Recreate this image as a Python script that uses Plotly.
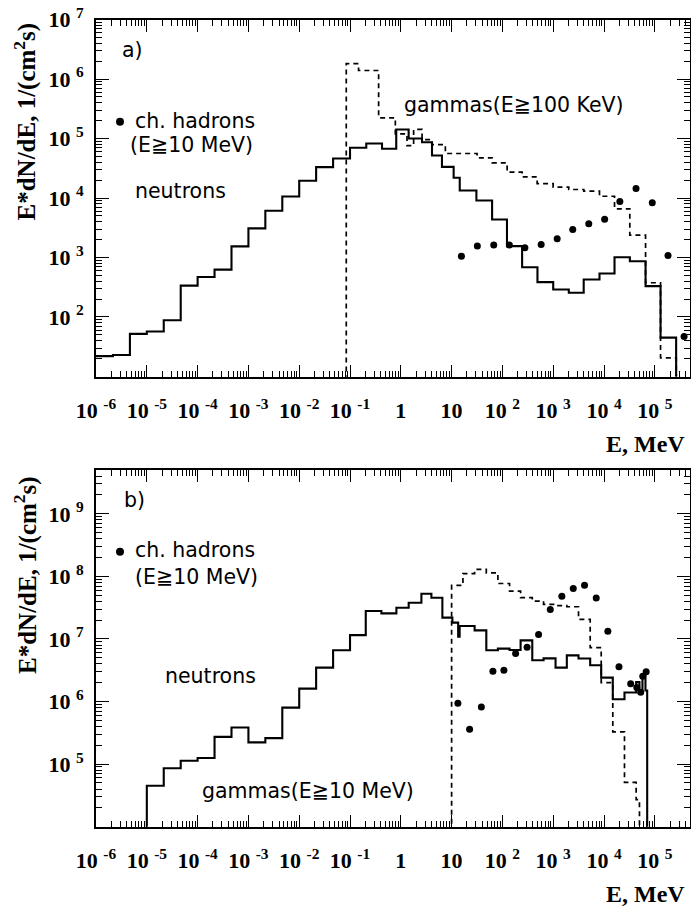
import numpy as np
import plotly.graph_objects as go

# ---------------- Panel a) ----------------
# neutron spectrum: bin edges (log10 E/MeV) and E*dN/dE values
a_neutron_edges_log = [-6, -5.667, -5.333, -5, -4.667, -4.333, -4, -3.667, -3.333, -3,
                       -2.667, -2.333, -2, -1.667, -1.333, -1, -0.68, -0.37, -0.09, 0.154,
                       0.417, 0.614, 0.81, 1.04, 1.16, 1.488, 1.797, 2.09, 2.388, 2.69,
                       3.0, 3.307, 3.60, 3.911, 4.207, 4.509, 4.818, 5.113, 5.42]
a_neutron_flux = [22, 23, 52, 57, 88, 336, 470, 624, 1535, 3090,
                  6090, 10600, 19500, 33000, 46000, 69800, 82400, 67200, 141700, 100000,
                  86700, 51800, 33400, 21900, 13400, 9080, 4360, 1550, 687, 385,
                  290, 255, 427, 538, 1010, 867, 330, 45]
# gamma spectrum (E >= 100 keV)
a_gamma_edges_log = [-1.074, -0.832, -0.437, -0.108, 0.122, 0.252, 0.418, 0.615, 0.877, 1.501,
                     1.797, 2.093, 2.388, 2.684, 2.999, 3.306, 3.602, 3.911, 4.207, 4.508,
                     4.818, 5.113, 5.423]
a_gamma_flux = [1.82e6, 1.39e6, 2.23e5, 1.2e5, 76000, 1.42e5, 96000, 79000, 56000, 47400,
                39000, 27200, 22600, 17500, 15200, 13900, 13000, 10700, 6580, 2370,
                376, 20.6]
# charged hadrons (E >= 10 MeV)
a_hadron_E = [15.6, 32.1, 67.5, 137, 277, 579, 1197, 2427, 5012, 10300,
              20500, 42700, 89100, 182000, 377000]
a_hadron_flux = [1050, 1560, 1620, 1620, 1455, 1650, 2060, 2960, 3700, 4410,
                 8730, 14450, 8300, 1080, 47]

# ---------------- Panel b) ----------------
b_neutron_edges_log = [-5, -4.667, -4.333, -4, -3.667, -3.333, -3, -2.667, -2.333, -2,
                       -1.667, -1.333, -1, -0.69, -0.382, -0.087, 0.155, 0.405, 0.602, 0.818,
                       1.015, 1.129, 1.158, 1.453, 1.683, 1.911, 2.141, 2.358, 2.588, 2.81,
                       3.046, 3.268, 3.498, 3.728, 3.945, 4.173, 4.403, 4.633, 4.698, 4.757,
                       4.816, 4.85]
b_neutron_flux = [45000, 85600, 1.13e5, 1.25e5, 2.72e5, 3.85e5, 2.22e5, 2.6e5, 8.0e5, 1.61e6,
                  3.48e6, 6.58e6, 1.15e7, 2.79e7, 2.56e7, 3.15e7, 3.79e7, 5.27e7, 4.56e7, 2.19e7,
                  1.82e7, 1.09e7, 1.61e7, 1.37e7, 6.58e6, 7.0e6, 6.65e6, 9.5e6, 4.56e6, 4.9e6,
                  3.48e6, 5.47e6, 4.86e6, 3.79e6, 2.41e6, 1.09e6, 1.39e6, 2.04e6, 1.4e6, 2.7e6,
                  1.5e6]
b_gamma_edges_log = [1.0, 1.223, 1.453, 1.683, 1.911, 2.141, 2.358, 2.588, 2.81, 3.046,
                     3.268, 3.498, 3.728, 3.945, 4.173, 4.403, 4.633, 4.698]
b_gamma_flux = [7.16e7, 1.11e8, 1.29e8, 1.14e8, 7.7e7, 5.8e7, 4.56e7, 4.03e7, 3.56e7, 3.4e7,
                3.27e7, 2.05e7, 7.26e6, 2.01e6, 3.27e5, 51000, 27000]
b_hadron_E = [13.3, 22.6, 38.5, 65.0, 107, 182, 306, 515, 875, 1480,
              2480, 4140, 7030, 11900, 19700, 33500, 44200, 52700, 57900, 67600]
b_hadron_flux = [9.4e5, 3.61e5, 8.2e5, 3.04e6, 3.16e6, 5.83e6, 7.35e6, 1.18e7, 2.96e7, 4.82e7,
                 6.41e7, 7.21e7, 4.53e7, 1.33e7, 3.59e6, 1.92e6, 1.67e6, 1.41e6, 2.54e6, 3.0e6]

# ---------------- axis ticks ----------------
x_tick_exp = list(range(-6, 6))
x_tick_text = ["10 <sup>%d</sup>" % e if e not in (0, 1) else ("1" if e == 0 else "10") for e in x_tick_exp]
a_y_tick_exp = [2, 3, 4, 5, 6, 7]
b_y_tick_exp = [5, 6, 7, 8, 9]

FLOOR = 1e-3
W, H = 691, 908


def step_xy(edges_log, flux, start_floor, end_floor):
    x = list(10.0 ** np.array(edges_log))
    y = list(flux) + [flux[-1]]
    if start_floor:
        x = [x[0]] + x
        y = [FLOOR] + y
    if end_floor:
        x = x + [x[-1]]
        y = y + [FLOOR]
    return x, y


def minor_vals(lo, hi):
    return [d * 10.0 ** k for k in range(lo, hi) for d in range(2, 10)]


fig = go.Figure()

solid = dict(color="black", width=2.1)
dashed = dict(color="black", width=1.7, dash="5px,4px")

x, y = step_xy(a_neutron_edges_log, a_neutron_flux, False, True)
fig.add_trace(go.Scatter(x=x, y=y, mode="lines", line=solid, line_shape="hv", xaxis="x", yaxis="y"))
x, y = step_xy(a_gamma_edges_log, a_gamma_flux, True, True)
fig.add_trace(go.Scatter(x=x, y=y, mode="lines", line=dashed, line_shape="hv", xaxis="x", yaxis="y"))
fig.add_trace(go.Scatter(x=a_hadron_E, y=a_hadron_flux, mode="markers",
                         marker=dict(color="black", size=7), xaxis="x", yaxis="y"))

x, y = step_xy(b_neutron_edges_log, b_neutron_flux, True, True)
fig.add_trace(go.Scatter(x=x, y=y, mode="lines", line=solid, line_shape="hv", xaxis="x2", yaxis="y2"))
x, y = step_xy(b_gamma_edges_log, b_gamma_flux, True, True)
fig.add_trace(go.Scatter(x=x, y=y, mode="lines", line=dashed, line_shape="hv", xaxis="x2", yaxis="y2"))
fig.add_trace(go.Scatter(x=b_hadron_E, y=b_hadron_flux, mode="markers",
                         marker=dict(color="black", size=7), xaxis="x2", yaxis="y2"))

tick_font = dict(family="Liberation Serif", size=22, color="black", weight="bold")
xdom = [96 / W, 689.5 / W]


def xaxis_cfg(anchor):
    return dict(type="log", range=[-6.0005, 5.683], domain=xdom, anchor=anchor, automargin=False,
                showline=True, linewidth=2, linecolor="black", mirror="allticks",
                ticks="inside", ticklen=12, tickwidth=1.3, tickcolor="black",
                tickmode="array", tickvals=[10.0 ** e for e in x_tick_exp], ticktext=x_tick_text,
                tickfont=tick_font, ticklabelstandoff=13,
                minor=dict(tickmode="array", tickvals=minor_vals(-6, 6), ticks="inside",
                           ticklen=6, tickwidth=1.1, tickcolor="black", showgrid=False),
                showgrid=False, zeroline=False)


def yaxis_cfg(anchor, rng, dom, exps):
    return dict(type="log", range=rng, domain=dom, anchor=anchor, automargin=False,
                showline=True, linewidth=2, linecolor="black", mirror="allticks",
                ticks="inside", ticklen=13, tickwidth=1.3, tickcolor="black",
                tickmode="array", tickvals=[10.0 ** e for e in exps],
                ticktext=["10 <sup>%d</sup>" % e for e in exps],
                tickfont=tick_font, ticklabelstandoff=6,
                minor=dict(tickmode="array", tickvals=minor_vals(int(rng[0]) - 1, int(rng[1]) + 1),
                           ticks="inside", ticklen=6, tickwidth=1.1, tickcolor="black", showgrid=False),
                showgrid=False, zeroline=False)


def px(v):
    return v / W


def py(v):
    return 1 - v / H


sans = dict(family="DejaVu Sans", size=20.5, color="black")
serif_b = dict(family="Liberation Serif", size=24, color="black", weight="bold")
title_font = dict(family="Liberation Serif", size=25, color="black", weight="bold")

ann = []


def label(text, x_left, y_center, font=sans, xanchor="left"):
    ann.append(dict(text=text, x=px(x_left), y=py(y_center), xref="paper", yref="paper",
                    xanchor=xanchor, yanchor="middle", showarrow=False, font=font))


# panel a texts
label("a)", 120, 50)
label("ch. hadrons", 133, 121)
label("(E≧10 MeV)", 128, 145)
label("neutrons", 133, 191)
label("gammas(E≧100 KeV)", 402, 105)
# panel b texts
label("b)", 122, 500)
label("ch. hadrons", 133, 550)
label("(E≧10 MeV)", 133, 577)
label("neutrons", 163, 676)
label("gammas(E≧10 MeV)", 200, 791)
# axis titles
label("E, MeV", 687, 444, serif_b, "right")
label("E, MeV", 687, 894, serif_b, "right")
for yc in (121.5, 575):
    ann.append(dict(text="E*dN/dE, 1/(cm<sup>2</sup>s)", x=px(25), y=py(yc), xref="paper", yref="paper",
                    xanchor="center", yanchor="middle", textangle=-90, showarrow=False, font=title_font))

shapes = []
for cy in (121.7, 551.7):
    shapes.append(dict(type="circle", xref="paper", yref="paper",
                       x0=px(116), x1=px(124), y0=py(cy + 4), y1=py(cy - 4),
                       fillcolor="black", line=dict(color="black", width=0)))

fig.update_layout(
    width=W, height=H, autosize=False,
    margin=dict(l=0, r=0, t=0, b=0),
    paper_bgcolor="white", plot_bgcolor="white",
    showlegend=False,
    xaxis=xaxis_cfg("y"),
    yaxis=yaxis_cfg("x", [0.9995, 7.0005], [py(376.5), py(19.5)], a_y_tick_exp),
    xaxis2=xaxis_cfg("y2"),
    yaxis2=yaxis_cfg("x2", [3.9995, 9.7], [py(826.7), py(470)], b_y_tick_exp),
    annotations=ann, shapes=shapes,
)

fig.write_html("out.html")
